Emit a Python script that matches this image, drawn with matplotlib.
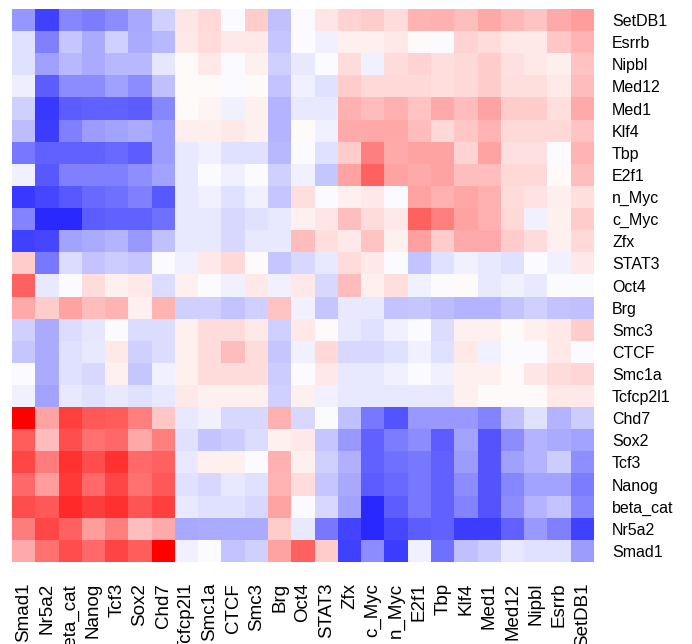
import numpy as np
import matplotlib
matplotlib.use("Agg")
import matplotlib.pyplot as plt

plt.rcParams['font.family'] = ['Liberation Sans', 'DejaVu Sans']

# row order top to bottom, column order left to right
row_labels = ["SetDB1", "Esrrb", "Nipbl", "Med12", "Med1", "Klf4", "Tbp", "E2f1",
              "n_Myc", "c_Myc", "Zfx", "STAT3", "Oct4", "Brg", "Smc3", "CTCF",
              "Smc1a", "Tcfcp2l1", "Chd7", "Sox2", "Tcf3", "Nanog", "beta_cat",
              "Nr5a2", "Smad1"]
col_labels = ["Smad1", "Nr5a2", "beta_cat", "Nanog", "Tcf3", "Sox2", "Chd7",
              "Tcfcp2l1", "Smc1a", "CTCF", "Smc3", "Brg", "Oct4", "STAT3", "Zfx",
              "c_Myc", "n_Myc", "E2f1", "Tbp", "Klf4", "Med1", "Med12", "Nipbl",
              "Esrrb", "SetDB1"]

scores = [
    [-0.41, -0.75, -0.47, -0.51, -0.45, -0.34, -0.18, 0.10, 0.15, -0.02, 0.20, -0.25, -0.02, 0.10, 0.17, 0.20, 0.14, 0.29, 0.31, 0.25, 0.34, 0.28, 0.23, 0.33, 0.39],
    [-0.12, -0.50, -0.22, -0.33, -0.18, -0.33, -0.28, 0.09, 0.14, 0.09, 0.09, -0.22, -0.02, -0.06, 0.06, 0.06, 0.09, 0.02, -0.02, 0.17, 0.14, 0.09, 0.09, 0.22, 0.29],
    [-0.12, -0.37, -0.28, -0.33, -0.28, -0.28, -0.10, 0.02, 0.09, -0.02, 0.06, -0.18, -0.09, -0.02, 0.14, -0.06, 0.14, 0.17, 0.13, 0.15, 0.20, 0.12, 0.09, 0.07, 0.23],
    [-0.07, -0.64, -0.45, -0.45, -0.37, -0.45, -0.25, 0.02, 0.02, -0.02, 0.02, -0.23, -0.06, -0.12, 0.20, 0.15, 0.15, 0.15, 0.13, 0.15, 0.20, 0.13, 0.13, 0.08, 0.26],
    [-0.18, -0.78, -0.64, -0.61, -0.61, -0.64, -0.47, 0.02, 0.04, -0.06, 0.06, -0.29, -0.09, -0.09, 0.31, 0.26, 0.31, 0.23, 0.33, 0.26, 0.36, 0.20, 0.20, 0.13, 0.33],
    [-0.26, -0.76, -0.50, -0.39, -0.36, -0.33, -0.39, 0.07, 0.07, 0.09, 0.06, -0.29, 0.02, -0.06, 0.33, 0.34, 0.34, 0.26, 0.15, 0.22, 0.29, 0.15, 0.15, 0.15, 0.23],
    [-0.53, -0.61, -0.61, -0.61, -0.58, -0.64, -0.39, -0.09, -0.06, -0.12, -0.12, -0.28, -0.02, -0.12, 0.20, 0.50, 0.33, 0.36, 0.36, 0.17, 0.36, 0.12, 0.12, -0.02, 0.29],
    [-0.06, -0.65, -0.50, -0.50, -0.50, -0.44, -0.36, -0.09, -0.02, -0.06, -0.02, -0.18, -0.06, -0.22, 0.36, 0.61, 0.36, 0.33, 0.36, 0.25, 0.25, 0.15, 0.15, 0.02, 0.25],
    [-0.78, -0.72, -0.65, -0.58, -0.56, -0.50, -0.65, -0.09, -0.06, -0.12, -0.06, -0.22, 0.13, -0.02, 0.06, 0.09, -0.02, 0.36, 0.31, 0.35, 0.31, 0.14, 0.11, 0.07, 0.13],
    [-0.48, -0.84, -0.84, -0.64, -0.61, -0.61, -0.56, -0.09, -0.09, -0.15, -0.12, -0.09, 0.06, 0.10, 0.25, 0.14, 0.09, 0.61, 0.50, 0.36, 0.31, 0.15, -0.06, 0.06, 0.20],
    [-0.75, -0.72, -0.36, -0.33, -0.29, -0.40, -0.25, -0.09, -0.09, -0.15, -0.09, -0.09, 0.26, 0.13, 0.09, 0.23, 0.06, 0.37, 0.20, 0.33, 0.33, 0.20, 0.14, 0.06, 0.15],
    [0.20, -0.53, -0.14, -0.23, -0.20, -0.22, -0.02, -0.06, 0.09, 0.15, 0.02, -0.22, -0.15, -0.09, 0.14, 0.09, -0.02, -0.23, -0.12, -0.06, -0.09, -0.12, -0.02, -0.06, 0.09],
    [0.61, -0.09, -0.02, 0.14, 0.06, 0.09, -0.14, 0.06, -0.02, -0.06, 0.09, -0.06, 0.09, -0.15, 0.26, 0.06, 0.13, -0.06, -0.02, 0.02, -0.09, -0.06, -0.09, -0.02, -0.02],
    [0.33, 0.20, 0.36, 0.26, 0.29, 0.06, 0.29, -0.18, -0.18, -0.23, -0.18, 0.23, -0.06, -0.22, -0.09, -0.09, -0.23, -0.22, -0.26, -0.29, -0.29, -0.23, -0.18, -0.23, -0.25],
    [-0.18, -0.33, -0.14, -0.10, -0.02, -0.14, -0.14, 0.06, 0.14, 0.14, 0.09, -0.18, 0.09, 0.02, -0.09, -0.12, -0.06, -0.02, -0.14, 0.06, 0.06, 0.02, 0.06, 0.09, 0.20],
    [-0.22, -0.33, -0.12, -0.09, 0.09, -0.18, -0.14, 0.06, 0.14, 0.26, 0.14, -0.22, -0.06, 0.15, -0.15, -0.15, -0.12, -0.06, -0.12, 0.09, -0.06, -0.02, -0.02, 0.09, -0.02],
    [-0.02, -0.33, -0.12, -0.15, 0.06, -0.22, -0.06, 0.06, 0.14, 0.14, 0.14, -0.20, -0.02, 0.09, -0.09, -0.09, -0.06, -0.02, -0.06, 0.06, 0.06, 0.02, 0.10, 0.14, 0.16],
    [-0.06, -0.36, -0.09, -0.12, -0.09, -0.12, -0.09, 0.09, 0.06, 0.06, 0.06, -0.18, 0.06, -0.06, -0.09, -0.09, -0.09, -0.09, -0.09, 0.06, 0.02, 0.02, 0.02, 0.09, 0.09],
    [1.00, 0.36, 0.75, 0.65, 0.64, 0.50, 0.22, -0.09, -0.06, -0.15, -0.15, 0.31, -0.15, -0.02, -0.25, -0.53, -0.67, -0.40, -0.40, -0.40, -0.48, -0.25, -0.12, -0.29, -0.20],
    [0.64, 0.26, 0.69, 0.56, 0.59, 0.34, 0.50, -0.12, -0.23, -0.20, -0.14, 0.06, 0.09, -0.22, -0.40, -0.61, -0.51, -0.45, -0.64, -0.36, -0.67, -0.45, -0.29, -0.33, -0.36],
    [0.72, 0.51, 0.80, 0.70, 0.80, 0.58, 0.62, -0.09, 0.06, 0.06, -0.02, 0.31, 0.06, -0.18, -0.31, -0.61, -0.56, -0.53, -0.61, -0.39, -0.67, -0.37, -0.29, -0.20, -0.44],
    [0.59, 0.39, 0.78, 0.58, 0.72, 0.56, 0.65, -0.12, -0.15, -0.09, -0.12, 0.29, 0.14, -0.22, -0.34, -0.64, -0.58, -0.53, -0.61, -0.45, -0.67, -0.47, -0.36, -0.36, -0.51],
    [0.70, 0.65, 0.83, 0.76, 0.81, 0.67, 0.75, -0.09, -0.12, -0.12, -0.15, 0.36, -0.02, -0.15, -0.36, -0.84, -0.64, -0.53, -0.61, -0.48, -0.67, -0.45, -0.29, -0.23, -0.47],
    [0.51, 0.72, 0.62, 0.39, 0.50, 0.25, 0.33, -0.34, -0.33, -0.33, -0.33, 0.20, -0.09, -0.53, -0.73, -0.84, -0.72, -0.64, -0.61, -0.76, -0.76, -0.61, -0.40, -0.50, -0.75],
    [0.33, 0.55, 0.70, 0.58, 0.73, 0.64, 1.00, -0.06, -0.02, -0.23, -0.18, 0.36, 0.61, 0.20, -0.75, -0.45, -0.76, -0.06, -0.56, -0.25, -0.20, -0.09, -0.12, -0.12, -0.39],
]

mat = np.array(scores)

fig = plt.figure(figsize=(6.92, 6.44), dpi=100)
ax = fig.add_axes([12 / 692, 1 - 562 / 644, 582 / 692, 553 / 644])
ax.imshow(mat, cmap="bwr", vmin=-1, vmax=1, aspect="auto", interpolation="nearest")

ax.set_xticks(np.arange(len(col_labels)))
ax.set_xticklabels(col_labels, rotation=90, fontsize=13.5)
ax.set_yticks(np.arange(len(row_labels)))
ax.set_yticklabels(row_labels, fontsize=11.5)
ax.yaxis.tick_right()
ax.tick_params(axis="x", length=0, pad=15)
ax.tick_params(axis="y", length=0, pad=13)
for s in ax.spines.values():
    s.set_visible(False)

fig.savefig("out.png", dpi=100)
